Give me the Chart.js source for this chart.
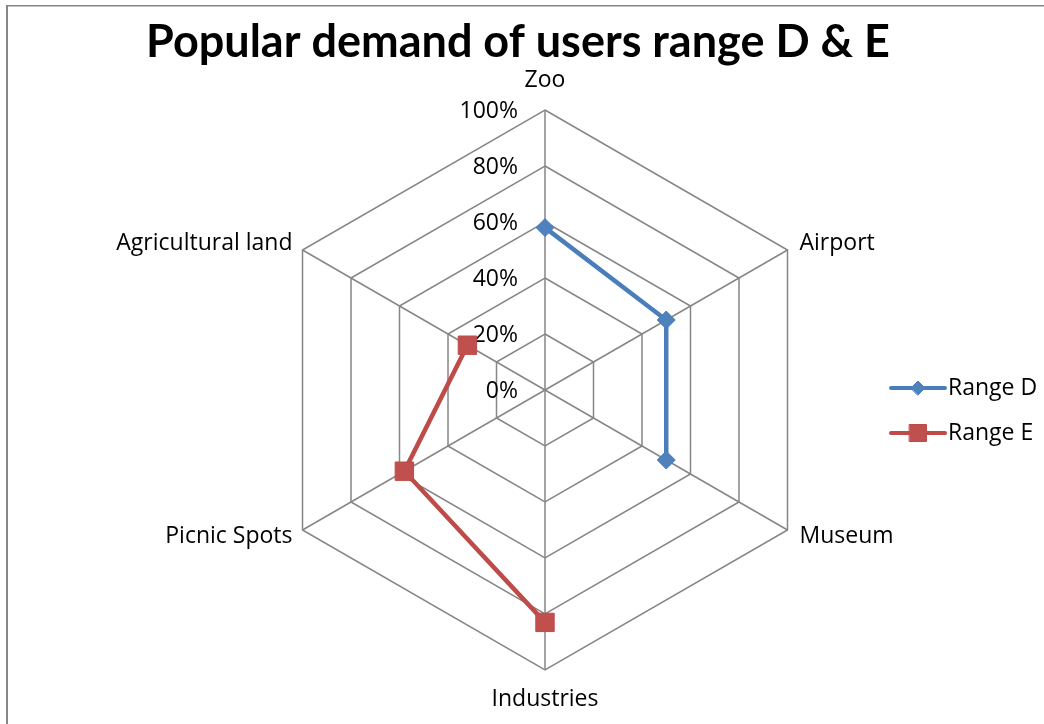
<!DOCTYPE html>
<html>
<head>
<meta charset="utf-8">
<script src="https://cdn.jsdelivr.net/npm/chart.js@4.4.1/dist/chart.umd.min.js"></script>
<style>
  html, body { margin: 0; padding: 0; background: #ffffff; }
  #wrap { width: 1044px; height: 724px; position: relative; }
</style>
</head>
<body>
<div id="wrap"><canvas id="c" width="1044" height="724"></canvas></div>
<script>
// Chart content
const chartTitle = 'Popular demand of users range D & E';
const categories = ['Zoo', 'Airport', 'Museum', 'Industries', 'Picnic Spots', 'Agricultural land'];
const rangeD = [58, 50, 50, null, null, null];
const rangeE = [null, null, null, 83, 58, 32];
const tickValues = [0, 20, 40, 60, 80, 100];
const tickLabels = ['0%', '20%', '40%', '60%', '80%', '100%'];

const TITLE_FONT = 'bold 45px Lato, "Open Sans", sans-serif';
const LABEL_FONT = '23px "Open Sans", Lato, sans-serif';
const GRID = '#868686';

// Axis labels, title, legend and frame drawn around the radar
const radarText = {
  id: 'radarText',
  beforeDatasetsDraw(chart) {
    const s = chart.scales.r;
    const ctx = chart.ctx;
    ctx.save();
    ctx.fillStyle = '#000000';
    ctx.font = LABEL_FONT;
    ctx.textBaseline = 'middle';

    // value ticks, flush against the vertical spoke
    ctx.textAlign = 'right';
    tickValues.forEach((v, i) => {
      const y = s.yCenter - s.getDistanceFromCenterForValue(v);
      ctx.fillText(tickLabels[i], s.xCenter - 27, y + 1);
    });

    // category names at the end of each spoke
    categories.forEach((name, i) => {
      const p = s.getPointPosition(i, s.drawingArea);
      const dx = p.x - s.xCenter;
      const dy = p.y - s.yCenter;
      let x = p.x, y = p.y;
      if (Math.abs(dx) < 1) {
        ctx.textAlign = 'center';
        y += dy < 0 ? -30 : 29;
      } else {
        ctx.textAlign = dx > 0 ? 'left' : 'right';
        x += dx > 0 ? 12 : -10;
        y += dy < 0 ? -7 : 6;
      }
      ctx.fillText(name, x, y);
    });
    ctx.restore();
  },
  afterDraw(chart) {
    const ctx = chart.ctx;
    ctx.save();

    // frame (left and top edges)
    ctx.fillStyle = GRID;
    ctx.fillRect(6, 5, 2, chart.height - 5);
    ctx.fillRect(6, 5, chart.width - 6, 1.5);

    // title
    ctx.fillStyle = '#000000';
    ctx.font = TITLE_FONT;
    ctx.textAlign = 'center';
    ctx.textBaseline = 'middle';
    ctx.fillText(chartTitle, 518, 42);

    // legend
    const lx0 = 891, lx1 = 945, ly0 = 388, lgap = 45;
    chart.data.datasets.forEach((ds, i) => {
      const y = ly0 + i * lgap;
      ctx.strokeStyle = ds.borderColor;
      ctx.lineWidth = 4;
      ctx.lineCap = 'round';
      ctx.beginPath();
      ctx.moveTo(lx0, y);
      ctx.lineTo(lx1, y);
      ctx.stroke();
      ctx.fillStyle = ds.pointBackgroundColor;
      ctx.strokeStyle = ds.pointBorderColor;
      ctx.lineWidth = 1;
      Chart.helpers.drawPoint(ctx, {
        pointStyle: ds.pointStyle,
        rotation: 0,
        radius: ds.pointStyle === 'rect' ? 12 : 7,
        borderWidth: 1
      }, (lx0 + lx1) / 2, y);
      ctx.fillStyle = '#000000';
      ctx.font = LABEL_FONT;
      ctx.textAlign = 'left';
      ctx.textBaseline = 'middle';
      ctx.fillText(ds.label, lx1 + 3, y);
    });
    ctx.restore();
  }
};

new Chart(document.getElementById('c'), {
  type: 'radar',
  data: {
    labels: categories,
    datasets: [
      {
        label: 'Range D',
        data: rangeD,
        borderColor: '#4a7ebb',
        borderWidth: 4.5,
        pointStyle: 'rectRot',
        pointRadius: 9,
        pointHoverRadius: 9,
        pointBackgroundColor: '#4f81bd',
        pointBorderColor: '#4a7ebb',
        pointBorderWidth: 1,
        fill: false,
        spanGaps: false,
        tension: 0
      },
      {
        label: 'Range E',
        data: rangeE,
        borderColor: '#be4b48',
        borderWidth: 4.5,
        pointStyle: 'rect',
        pointRadius: 13,
        pointHoverRadius: 13,
        pointBackgroundColor: '#c0504d',
        pointBorderColor: '#be4b48',
        pointBorderWidth: 1,
        fill: false,
        spanGaps: false,
        tension: 0
      }
    ]
  },
  options: {
    responsive: false,
    animation: false,
    layout: { padding: { top: 110, bottom: 54, left: 245, right: 199 } },
    plugins: {
      legend: { display: false },
      title: { display: false },
      tooltip: { enabled: false }
    },
    scales: {
      r: {
        min: 0,
        max: 100,
        ticks: { stepSize: 20, display: false },
        pointLabels: { display: false },
        grid: { circular: false, color: GRID, lineWidth: 1.5 },
        angleLines: { display: true, color: GRID, lineWidth: 1.5 }
      }
    }
  },
  plugins: [radarText]
});
</script>
</body>
</html>
